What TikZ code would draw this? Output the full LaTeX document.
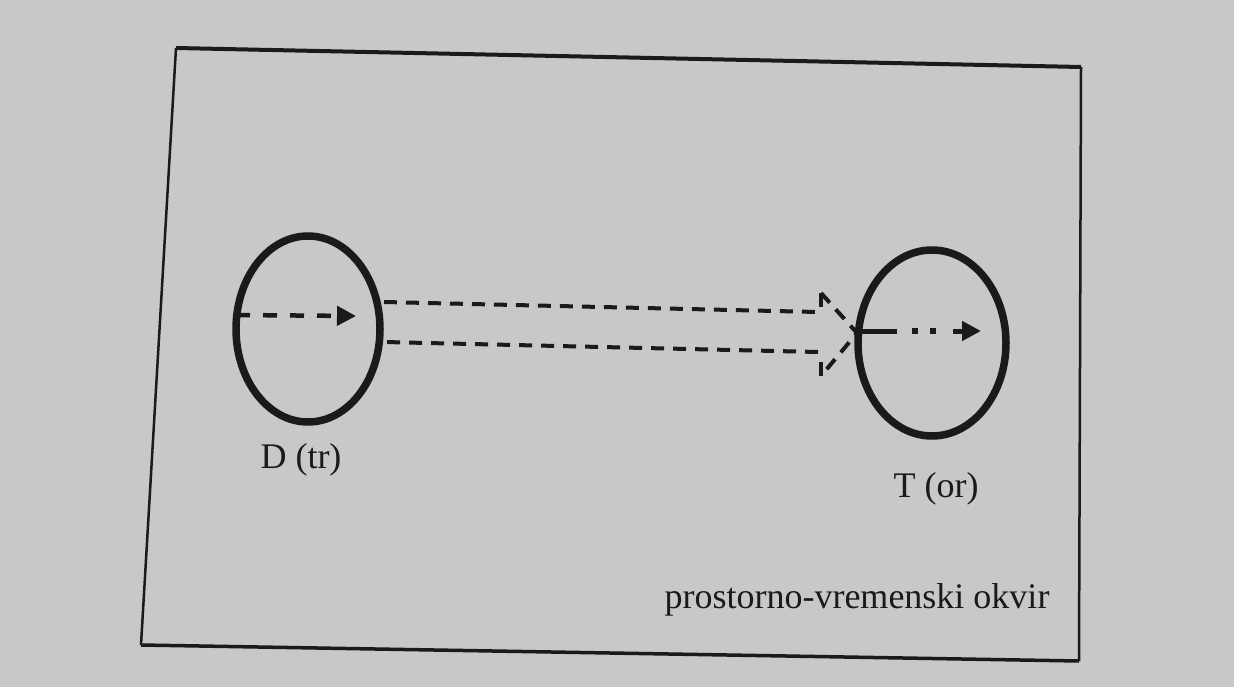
\documentclass[tikz,border=0pt]{standalone}
\usepackage{fontspec}
\setmainfont{Liberation Serif}
\usetikzlibrary{arrows.meta,shapes.geometric}
\definecolor{paper}{RGB}{200,200,198}
\definecolor{ink}{RGB}{26,26,26}
\tikzset{
  ring/.style={draw=ink, line width=7.5pt, ellipse, inner sep=0pt, minimum width=144pt, minimum height=186pt},
  dashline/.style={draw=ink, line width=4pt, dash pattern=on 13pt off 9pt},
  innerdash/.style={draw=ink, line width=4.5pt, dash pattern=on 14pt off 13pt},
  lbl/.style={text=ink, font=\fontsize{36}{40}\selectfont, inner sep=0pt},
  tip/.style={-{Triangle[length=19pt,width=19pt]}},
}
\begin{document}
\begin{tikzpicture}[x=1pt,y=-1pt]
\useasboundingbox (0,0) rectangle (1234,687);
\fill[paper] (0,0) rectangle (1234,687);
% frame
\coordinate (tl) at (176,48);
\coordinate (tr) at (1081,67);
\coordinate (br) at (1079,661);
\coordinate (bl) at (141,645);
\draw[ink, line width=4pt] (tl) -- (tr);
\draw[ink, line width=2.5pt] (tr) -- (br);
\draw[ink, line width=3.5pt] (br) -- (bl);
\draw[ink, line width=2.5pt] (bl) -- (tl);
% circles
\node[ring] (cl) at (308,329) {};
\node[ring, minimum width=148pt] (cr) at (932,343) {};
\coordinate (dl0) at (236,315);
\coordinate (dl1) at (356,316);
\draw[innerdash, tip] (dl0) -- (dl1);
% hollow dashed arrow
\coordinate (a1) at (384,302);
\coordinate (a2) at (818,312);
\coordinate (a3) at (821,293);
\coordinate (a4) at (857,333);
\coordinate (a5) at (821,376);
\coordinate (a6) at (818,352);
\coordinate (a7) at (384,342);
\draw[dashline] (a1) -- (a2);
\draw[dashline] (a3) -- (a4) -- (a5);
\draw[dashline] (a6) -- (a7);
\draw[ink, line width=3.5pt] (821,293) -- (821,307);
\draw[ink, line width=3.5pt] (821,362) -- (821,376);
% right inner arrow
\coordinate (r0) at (858,331);
\coordinate (r1) at (897,331);
\draw[ink, line width=5pt] (r0) -- (r1);
\fill[ink] (912,328) rectangle (918,334);
\fill[ink] (930,328) rectangle (936,334);
\coordinate (r2) at (953,331);
\coordinate (r3) at (981,331);
\draw[ink, line width=5pt, tip] (r2) -- (r3);
% labels
\node[lbl] (dlab) at (301,460) {D (tr)};
\node[lbl] (tlab) at (936,489) {T (or)};
\node[lbl] (frame) at (857,600) {prostorno-vremenski okvir};
\end{tikzpicture}
\end{document}
